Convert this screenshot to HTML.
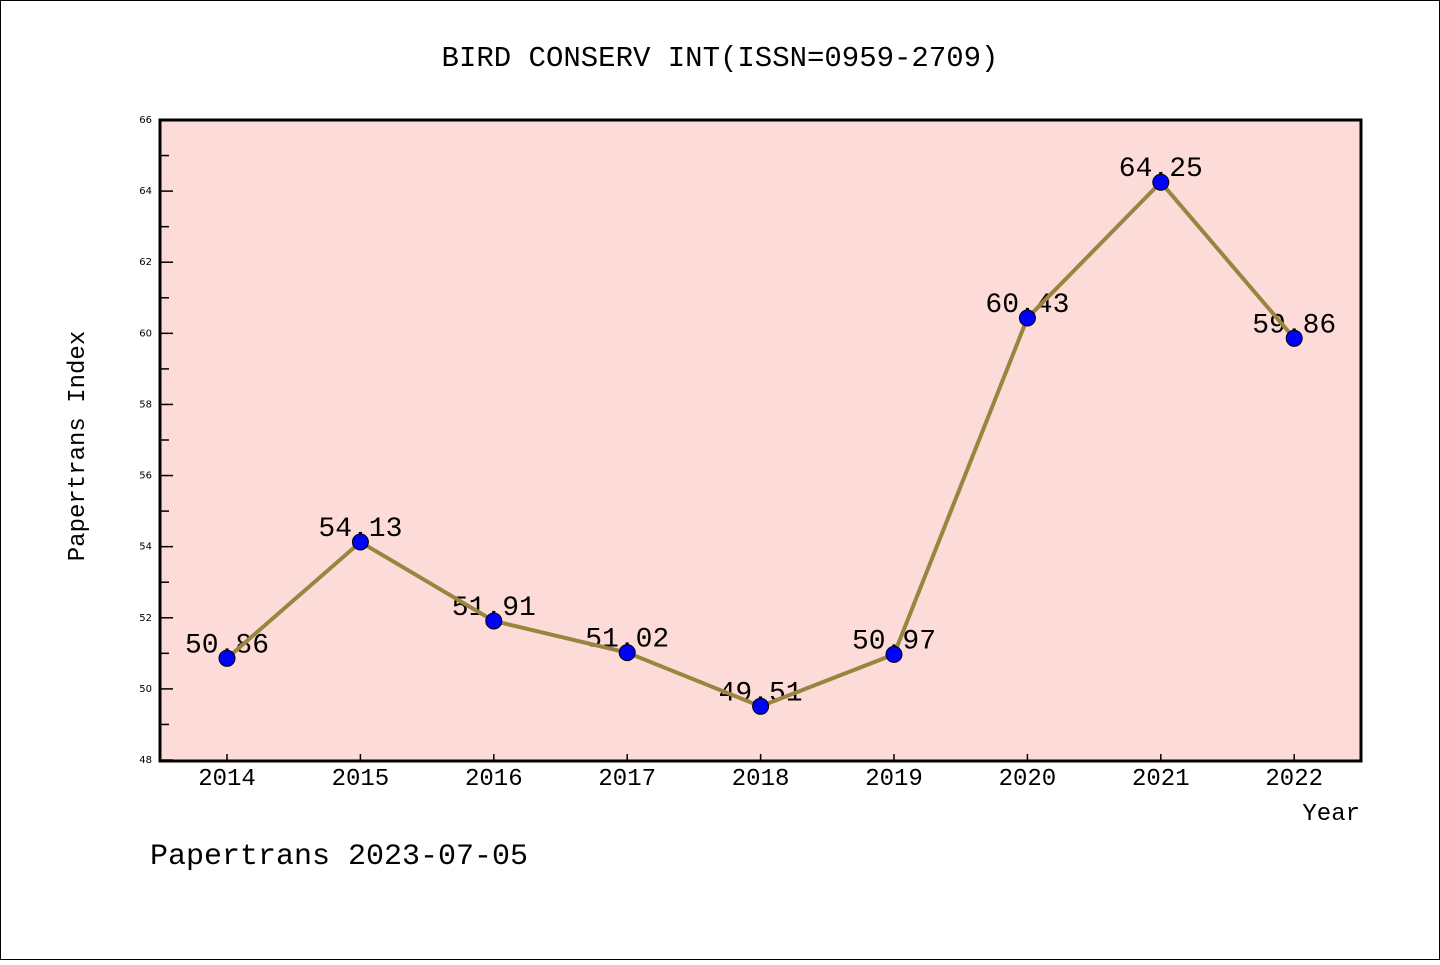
<!DOCTYPE html>
<html><head><meta charset="utf-8"><style>
body{margin:0;background:#fff}
svg text{font-family:"Liberation Mono","DejaVu Sans Mono",monospace}
</style></head><body>
<svg id="c" width="1440" height="960" xmlns="http://www.w3.org/2000/svg">
<rect x="0.5" y="0.5" width="1439" height="959" fill="#fff" stroke="#000"/>
<text x="720" y="66" font-size="29" text-anchor="middle">BIRD CONSERV INT(ISSN=0959-2709)</text>
<rect x="160" y="120" width="1201" height="641" fill="#fddbd8"/>
<g id="ax"></g>
<g id="marks"></g>
<rect x="160" y="120" width="1201" height="641" fill="none" stroke="#000" stroke-width="3"/>
<text x="84" y="446" font-size="24" text-anchor="middle" transform="rotate(-90 84 446)">Papertrans Index</text>
<text x="1360" y="820" font-size="24" text-anchor="end">Year</text>
<text x="150" y="864" font-size="30">Papertrans 2023-07-05</text>
</svg>
<script>
const years=["2014","2015","2016","2017","2018","2019","2020","2021","2022"];
const values=[50.86,54.13,51.91,51.02,49.51,50.97,60.43,64.25,59.86];
const labels=["50.86","54.13","51.91","51.02","49.51","50.97","60.43","64.25","59.86"];
const yTicks=[48,50,52,54,56,58,60,62,64,66];
const NS="http://www.w3.org/2000/svg";
const yMin=48,yMax=66,yTop=120,yBot=760;
const sy=v=>yBot-(v-yMin)/(yMax-yMin)*(yBot-yTop);
const sx=i=>227+i*133.4;
function mk(t,a,p){const e=document.createElementNS(NS,t);for(const k in a)e.setAttribute(k,a[k]);p.appendChild(e);return e;}
const ax=document.getElementById('ax'),mg=document.getElementById('marks');
yTicks.forEach(v=>{
 const l=mk('line',{x1:160,x2:173,y1:sy(v),y2:sy(v),stroke:'#000','stroke-width':1.5},ax);
 
 
 const t=mk('text',{x:152,y:sy(v)+3,'font-size':10,'text-anchor':'end',style:'font-family:"DejaVu Sans",sans-serif'},ax);t.textContent=v;
 
 
 if(v<yMax){const m=mk('line',{x1:160,x2:169,y1:sy(v+1),y2:sy(v+1),stroke:'#000','stroke-width':1.5},ax);
 
 }
});
years.forEach((yr,i)=>{
 const l=mk('line',{x1:sx(i),x2:sx(i),y1:761,y2:754,stroke:'#000','stroke-width':1.5},ax);
 
 
 const t=mk('text',{x:sx(i),y:785,'font-size':24,'text-anchor':'middle'},ax);t.textContent=yr;
 
 
});
values.forEach((v,i)=>{
 const t=mk('text',{x:sx(i),y:sy(v)-6,'font-size':28,'text-anchor':'middle'},mg);t.textContent=labels[i];
 
 
});
const pl=mk('polyline',{points:values.map((v,i)=>sx(i)+','+sy(v)).join(' '),fill:'none',stroke:'#9a8540','stroke-width':4},mg);


values.forEach((v,i)=>{
 const c=mk('circle',{cx:sx(i),cy:sy(v),r:8,fill:'#0000ff',stroke:'#000','stroke-width':1},mg);
 
 
});
</script>
</body></html>
